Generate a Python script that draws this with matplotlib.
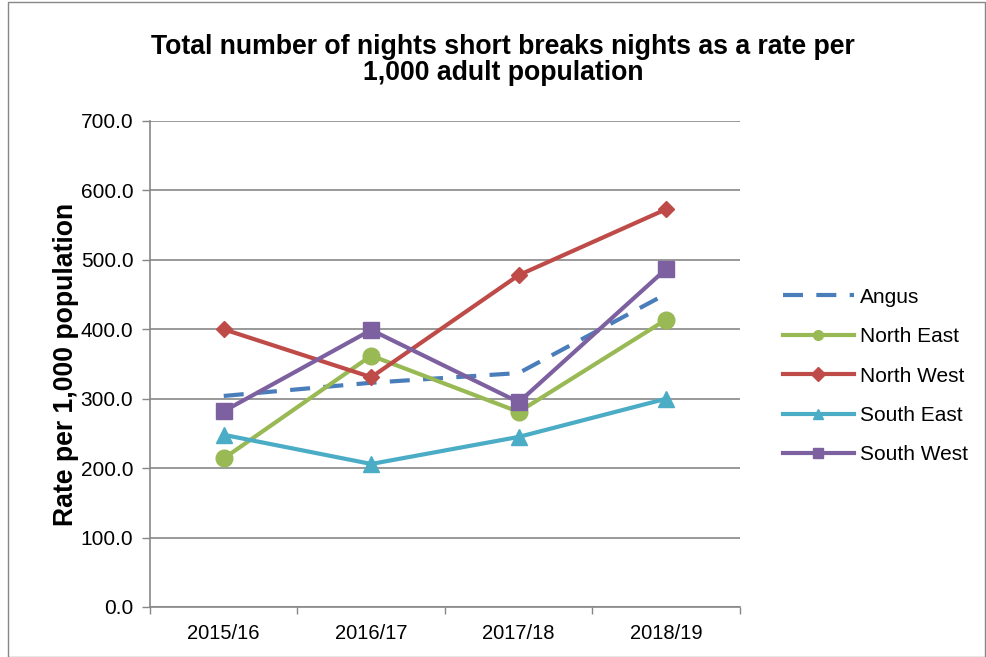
import matplotlib
matplotlib.use("Agg")
import matplotlib.pyplot as plt
from matplotlib.patches import Rectangle

plt.rcParams['font.family'] = ['Liberation Sans', 'DejaVu Sans']

years = ["2015/16", "2016/17", "2017/18", "2018/19"]
angus = [304, 323, 337, 451]
north_east = [214, 362, 281, 414]
north_west = [400, 331, 478, 573]
south_east = [248, 206, 245, 300]
south_west = [282, 399, 295, 487]
y_ticks = [0, 100, 200, 300, 400, 500, 600, 700]

fig = plt.figure(figsize=(9.87, 6.57), dpi=100)
W, H = 987, 657
ax = fig.add_axes([150 / W, 1 - 607 / H, 590 / W, 486 / H])

x = list(range(len(years)))
lw = 3.0
ax.plot(x, angus, color='#4A7EBB', lw=lw, dashes=(4.8, 3.2), label='Angus', zorder=3)
ax.plot(x, north_east, color='#98B954', lw=lw, marker='o', ms=12, label='North East', zorder=3)
ax.plot(x, north_west, color='#BE4B48', lw=lw, marker='D', ms=8.5, label='North West', zorder=3)
ax.plot(x, south_east, color='#4BACC6', lw=lw, marker='^', ms=12, label='South East', zorder=3)
ax.plot(x, south_west, color='#7D60A0', lw=lw, marker='s', ms=12, label='South West', zorder=3)

ax.set_xlim(-0.5, len(years) - 0.5)
ax.set_ylim(0, 700)
ax.set_yticks(y_ticks)
ax.set_yticklabels([f"{v:.1f}" for v in y_ticks], fontsize=15)
ax.set_xticks(x)
ax.set_xticklabels(years, fontsize=14.5)
ax.set_xticks([i - 0.5 for i in range(len(years) + 1)], minor=True)
ax.tick_params(axis='x', which='major', length=0, pad=12)
ax.tick_params(axis='x', which='minor', length=5, color='#878787', width=1)
ax.tick_params(axis='y', length=6, color='#878787', width=1, pad=6)
ax.grid(axis='y', color='#878787', lw=1.2)
ax.set_axisbelow(True)
for s in ['top', 'right']:
    ax.spines[s].set_visible(False)
for s in ['left', 'bottom']:
    ax.spines[s].set_color('#878787')
    ax.spines[s].set_linewidth(1.2)

ax.set_ylabel('Rate per 1,000 population', fontsize=19.2, fontweight='bold', labelpad=1)

fig.text(503 / W, 1 - 60 / H, 'Total number of nights short breaks nights as a rate per\n1,000 adult population',
         ha='center', va='center', fontsize=19.2, fontweight='bold', linespacing=1.05)

leg = fig.legend(loc='center left', bbox_to_anchor=(764 / W, 1 - 376 / H), frameon=False,
                 fontsize=15, handlelength=3.4, labelspacing=0.98, handletextpad=0.3)
for h in leg.legend_handles:
    h.set_markersize(7)

fig.patches.append(Rectangle((8 / W, 0), 977 / W, 1 - 2 / H, transform=fig.transFigure,
                             fill=False, edgecolor='#878787', lw=1))

fig.savefig('out.png', dpi=100)
